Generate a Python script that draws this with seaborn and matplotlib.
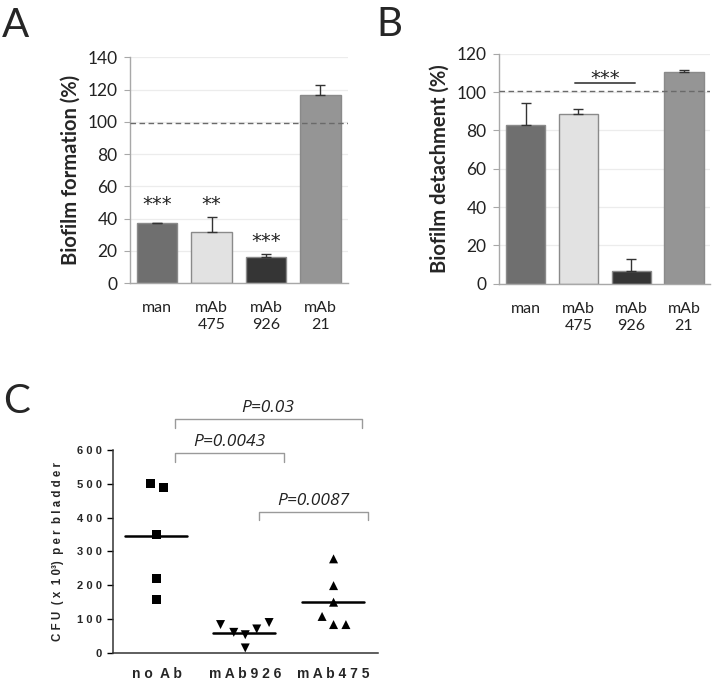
import matplotlib
matplotlib.use("Agg")
import matplotlib.pyplot as plt
import seaborn as sns
import pandas as pd
import numpy as np

# ---------------- data ----------------
categories = ["man", "mAb\n475", "mAb\n926", "mAb\n21"]
formation = [37.0, 31.5, 16.0, 116.5]
formation_err = [0.4, 9.3, 2.0, 6.5]
formation_stars = ["***", "**", "***", ""]
detachment = [82.7, 88.6, 6.6, 110.5]
detachment_err = [11.9, 2.6, 6.4, 1.2]
bar_colors = ["#6f6f6f", "#e2e2e2", "#353535", "#959595"]

groups_c = ["n o  A b", "m A b 9 2 6", "m A b 4 7 5"]
noab = [500, 490, 350, 220, 157]
mab926 = [84, 61, 54, 71, 90, 15]
mab475 = [108, 84, 84, 150, 199, 278]
medians = [345, 60, 152]
c_yticks = [0, 100, 200, 300, 400, 500, 600]
c_yticklabels = ["0", "1 0 0", "2 0 0", "3 0 0", "4 0 0", "5 0 0", "6 0 0"]
p_labels = ["P=0.03", "P=0.0043", "P=0.0087"]

# jitter offsets of points (layout)
jit_noab = [-0.07, 0.07, 0.0, 0.0, 0.0]
jit_926 = [-0.28, -0.13, 0.0, 0.13, 0.27, 0.0]
jit_475 = [-0.13, 0.0, 0.14, 0.0, 0.0, 0.0]

sns.set_style("white")
plt.rcParams["font.family"] = ["Lato", "DejaVu Sans"]

fig = plt.figure(figsize=(7.14, 6.82), dpi=100)

def bar_panel(ax, values, errs, ylim, ylabel, dashed_y):
    df = pd.DataFrame({"cat": categories, "val": values})
    sns.barplot(data=df, x="cat", y="val", hue="cat", palette=bar_colors,
                legend=False, width=0.74, edgecolor="#8a8a8a", linewidth=1.0,
                ax=ax, zorder=2)
    ax.errorbar(range(len(values)), values, yerr=[np.zeros(len(errs)), errs],
                fmt="none", ecolor="#333333", elinewidth=1.0, capsize=3.5,
                capthick=1.0, zorder=3)
    ax.set_xlim(-0.5, 3.5)
    ax.set_ylim(*ylim)
    ax.axhline(dashed_y, color="#6a6a6a", lw=1.0, ls=(0, (4, 2.5)), zorder=4)
    ax.yaxis.grid(True, color="#ececec", lw=0.9)
    ax.set_axisbelow(True)
    for s in ["top", "right"]:
        ax.spines[s].set_visible(False)
    for s in ["left", "bottom"]:
        ax.spines[s].set_color("#a8a8a8")
        ax.spines[s].set_linewidth(1.0)
    ax.set_xticks(range(4))
    ax.set_xticklabels(categories, fontsize=11.5, color="#222222",
                       linespacing=1.25, va="top")
    ax.set_xticks([-0.5, 0.5, 1.5, 2.5, 3.5], minor=True)
    ax.tick_params(axis="x", which="major", length=0, pad=13)
    ax.tick_params(axis="x", which="minor", length=5, color="#a8a8a8", width=1)
    ax.tick_params(axis="y", length=4, color="#a8a8a8", labelsize=12.5,
                   labelcolor="#222222", left=True, pad=5)
    ax.set_xlabel("")
    ax.set_ylabel(ylabel, fontsize=14.5, fontweight="bold", labelpad=5)

# Panel A
axA = fig.add_axes([0.182, 0.585, 0.305, 0.331])
bar_panel(axA, formation, formation_err, (0, 140), "Biofilm formation (%)", 99.5)
for i, st in enumerate(formation_stars):
    if st:
        y = 49 if i < 2 else 26
        axA.text(i, y, st, ha="center", va="center", fontsize=14,
                 color="#222222", family=["DejaVu Sans"])
axA.set_yticks(range(0, 141, 20))

# Panel B
axB = fig.add_axes([0.699, 0.584, 0.296, 0.337])
bar_panel(axB, detachment, detachment_err, (0, 120), "Biofilm detachment (%)", 100.6)
axB.set_yticks(range(0, 121, 20))
axB.plot([0.93, 2.08], [104.7, 104.7], color="#555555", lw=1.4, zorder=5)
axB.text(1.5, 107.2, "***", ha="center", va="center", fontsize=14,
         color="#222222", family=["DejaVu Sans"])

# Panel C
axC = fig.add_axes([0.158, 0.0425, 0.371, 0.298])
rows = []
for gi, (vals, jit) in enumerate([(noab, jit_noab), (mab926, jit_926),
                                  (mab475, jit_475)]):
    for v, j in zip(vals, jit):
        rows.append({"x": gi + j, "y": v, "grp": groups_c[gi]})
dfc = pd.DataFrame(rows)
sns.scatterplot(data=dfc, x="x", y="y", style="grp",
                markers={groups_c[0]: "s", groups_c[1]: "v", groups_c[2]: "^"},
                color="black", s=42, edgecolor="black", linewidth=0,
                legend=False, ax=axC, zorder=3)
for gi, m in enumerate(medians):
    axC.plot([gi - 0.36, gi + 0.34], [m, m], color="black", lw=1.8, zorder=4)
axC.set_xlim(-0.5, 2.5)
axC.set_ylim(0, 600)
axC.set_xticks(range(3))
axC.set_xticklabels(groups_c, fontsize=10, fontweight="bold",
                    family=["Liberation Sans", "DejaVu Sans"])
axC.set_yticks(c_yticks)
axC.set_yticklabels(c_yticklabels, fontsize=8, fontweight="bold",
                    family=["Liberation Sans", "DejaVu Sans"])
axC.tick_params(axis="x", length=5, width=1.0, color="black", pad=5)
axC.tick_params(axis="y", length=4, width=1.0, color="black", left=True, pad=4)
for s in ["top", "right"]:
    axC.spines[s].set_visible(False)
for s in ["left", "bottom"]:
    axC.spines[s].set_color("#333333")
    axC.spines[s].set_linewidth(1.1)
axC.set_xlabel("")
axC.set_ylabel("C F U  ( x  1 0³)  p e r  b l a d d e r", fontsize=8.3,
               fontweight="bold", family=["Liberation Sans", "DejaVu Sans"],
               labelpad=9)

brackets = [(0.2, 2.32, 692, 665), (0.2, 1.44, 591, 565), (1.15, 2.39, 417, 393)]
for (x0, x1, yt, yb), lab in zip(brackets, p_labels):
    axC.plot([x0, x0, x1, x1], [yb, yt, yt, yb], color="#9a9a9a", lw=1.0,
             clip_on=False)
    axC.text((x0 + x1) / 2, yt + 7, lab, ha="center", va="bottom",
             fontsize=12.5, style="italic", color="#222222",
             family=["Open Sans", "DejaVu Sans"])

# panel letters
fig.text(0.003, 0.9457, "A", fontsize=29, va="baseline", ha="left")
fig.text(0.527, 0.947, "B", fontsize=29, va="baseline", ha="left")
fig.text(0.005, 0.3944, "C", fontsize=29, va="baseline", ha="left")

fig.savefig("out.png", dpi=100)
